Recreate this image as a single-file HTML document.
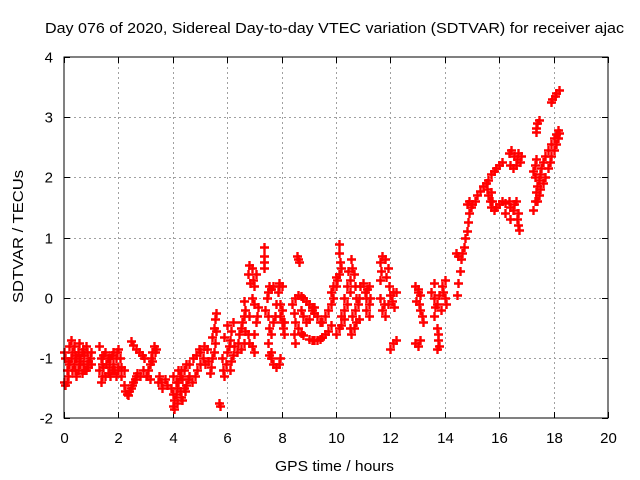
<!DOCTYPE html>
<html><head><meta charset="utf-8"><style>
html,body{margin:0;padding:0;background:#fff;}
svg{display:block;font-family:"Liberation Sans",sans-serif;}
</style></head><body>
<svg id="chart" width="640" height="480" viewBox="0 0 640 480">
<rect width="640" height="480" fill="#fff"/>
<text x="45" y="33" font-size="15" textLength="579" lengthAdjust="spacingAndGlyphs" fill="#000">Day 076 of 2020, Sidereal Day-to-day VTEC variation (SDTVAR) for receiver ajac</text>
<text x="275" y="471" font-size="15" textLength="119" lengthAdjust="spacingAndGlyphs" fill="#000">GPS time / hours</text>
<text x="0" y="0" font-size="15" textLength="133" lengthAdjust="spacingAndGlyphs" fill="#000" transform="translate(23,303) rotate(-90)">SDTVAR / TECUs</text>
<g id="grid"></g>
<g id="ticks"></g>
<g id="marks"></g>
<rect x="64" y="57" width="544" height="361" fill="none" stroke="#000" stroke-width="1"/>
</svg>
<script>
const xTicks = [0,2,4,6,8,10,12,14,16,18,20];
const yTicks = [-2,-1,0,1,2,3,4];
const xTickLabels = ["0","2","4","6","8","10","12","14","16","18","20"];
const yTickLabels = ["-2","-1","0","1","2","3","4"];
const points = [
[0,-0.9],[0.05,-1.0],[0.1,-1.4],[0.15,-1.3],[0.2,-0.8],[0.25,-0.7],[0.3,-0.9],[0.35,-1.1],[0.4,-1.2],[0.45,-1.0],[0.5,-0.9],[0.55,-0.75],[0.6,-1.0],[0.65,-1.25],[0.7,-1.1],[0.75,-0.95],[0.8,-0.8],[0.85,-0.9],[0.9,-1.05],[0.95,-1.0],[1.0,-1.1],
[0,-1.4],[0.05,-1.45],[0.1,-1.2],[0.2,-1.1],[0.3,-1.2],[0.4,-0.95],[0.5,-1.2],[0.6,-1.1],[0.7,-0.85],[0.8,-1.2],[0.9,-1.15],[1.0,-0.9],[0.15,-1.05],[0.35,-0.8],[0.55,-1.05],[0.75,-1.2],[0.25,-1.0],[0.45,-1.3],[0.65,-0.9],[0.85,-1.1],
[1.3,-0.8],[1.35,-1.0],[1.4,-1.3],[1.45,-1.15],[1.5,-0.9],[1.55,-1.1],[1.6,-1.25],[1.7,-1.0],[1.75,-0.95],[1.8,-1.1],[1.85,-1.2],[1.9,-1.0],[1.95,-0.9],[2.0,-0.85],[2.05,-1.0],[2.1,-1.15],[2.2,-1.2],
[1.3,-1.2],[1.4,-1.1],[1.5,-1.3],[1.6,-1.0],[1.7,-1.3],[1.8,-0.9],[1.9,-1.3],[2.0,-1.2],[1.35,-1.4],[1.65,-1.15],[1.45,-0.95],[1.75,-1.2],
[2.0,-1.15],[2.1,-1.3],[2.2,-1.45],[2.3,-1.6],[2.4,-1.55],[2.5,-1.45],[2.6,-1.35],[2.7,-1.25],[2.8,-1.3],[2.9,-1.2],[3.0,-1.3],[2.25,-1.55],[2.35,-1.62],[2.45,-1.5],[2.55,-1.4],[2.65,-1.3],
[2.45,-0.72],[2.55,-0.78],[2.65,-0.85],[2.75,-0.9],[2.85,-0.95],[2.95,-1.0],
[3.1,-1.2],[3.15,-1.1],[3.2,-1.0],[3.25,-0.9],[3.3,-0.8],[3.35,-0.9],[3.4,-0.85],[3.05,-1.3],[3.15,-1.35],[3.25,-1.05],
[3.45,-1.4],[3.55,-1.4],[3.6,-1.5],[3.7,-1.35],[3.8,-1.45],[3.5,-1.3],
[4.0,-1.8],[4.05,-1.7],[4.1,-1.6],[4.15,-1.5],[4.2,-1.4],[4.25,-1.3],[4.3,-1.2],[4.35,-1.35],[4.4,-1.5],[4.0,-1.3],[4.1,-1.4],[4.2,-1.2],[3.95,-1.5],[4.05,-1.85],[4.15,-1.75],[4.3,-1.65],[4.45,-1.55],[4.5,-1.45],[4.55,-1.35],[4.6,-1.3],[4.6,-1.1],[4.5,-1.1],[4.4,-1.2],[4.7,-1.4],[4.8,-1.3],[4.9,-1.2],[5.0,-1.1],[4.75,-1.0],[4.85,-0.95],[4.95,-0.85],[4.25,-1.55],[4.35,-1.7],[4.0,-1.6],
[5.0,-0.9],[5.1,-1.0],[5.2,-1.1],[5.15,-0.8],[5.25,-0.85],[5.3,-1.05],[5.35,-1.25],[5.4,-1.15],[5.45,-1.0],[5.5,-0.9],[5.55,-0.75],[5.6,-0.55],[5.5,-0.5],[5.45,-0.65],[5.55,-0.35],[5.6,-0.25],
[5.7,-1.75],[5.75,-1.8],
[5.8,-1.0],[5.85,-1.2],[5.9,-1.3],[5.95,-1.1],[6.0,-0.9],[6.05,-0.8],[6.1,-0.7],[6.15,-0.55],[6.2,-0.4],[6.1,-1.2],[6.15,-1.05],[6.2,-0.95],[6.25,-0.8],[6.0,-0.45],[5.9,-0.65],
[6.35,-0.9],[6.4,-0.75],[6.45,-0.6],[6.5,-0.5],[6.55,-0.4],[6.6,-0.3],[6.65,-0.55],[6.6,-0.75],[6.5,-0.85],[6.6,-0.05],[6.65,-0.2],
[6.75,0.4],[6.8,0.55],[6.9,0.5],[6.95,0.3],[7.0,0.2],[7.05,0.4],[6.85,0.25],[6.9,0.0],[7.0,-0.1],[6.8,-0.3],[6.75,-0.6],[6.8,-0.75],[6.9,-0.8],[7.0,-0.6],[7.05,-0.4],[7.1,-0.3],[7.15,-0.15],[7.0,-0.9],
[7.35,0.85],[7.35,0.7],[7.35,0.6],[7.35,0.5],
[7.4,-0.2],[7.45,0.0],[7.5,0.1],[7.55,0.2],[7.6,0.15],[7.7,0.2],[7.5,-0.3],[7.55,-0.5],[7.6,-0.6],[7.7,-0.4],[7.75,-0.3],[7.8,-0.1],[7.85,0.1],[7.9,0.2],[7.5,-0.75],[7.6,-0.9],
[7.6,-1.0],[7.7,-1.1],[7.8,-1.15],[7.9,-1.1],[7.95,-1.0],[7.55,-0.95],
[7.95,-0.3],[8.0,-0.4],[8.05,-0.5],[8.1,-0.4],[8.0,-0.2],[7.95,-0.1],[8.1,-0.6],[7.9,0.25],[8.0,0.2],
[8.55,0.7],[8.6,0.65],[8.65,0.6],
[8.4,-0.1],[8.45,-0.25],[8.5,-0.4],[8.6,-0.5],[8.7,-0.58],[8.8,-0.62],[9.0,-0.68],[9.1,-0.7],[9.2,-0.7],[9.3,-0.7],[9.4,-0.68],[9.5,-0.65],[9.6,-0.6],[9.7,-0.55],[9.8,-0.45],[8.5,0.0],[8.6,0.05],[8.7,0.02],[8.8,0.0],[8.9,-0.05],[9.0,-0.1],[9.1,-0.15],[9.2,-0.15],
[8.7,-0.2],[8.8,-0.3],[8.9,-0.4],[9.0,-0.35],[9.1,-0.2],[9.2,-0.25],[9.3,-0.3],[9.4,-0.4],[8.45,-0.6],[8.5,-0.75],
[9.5,-0.4],[9.6,-0.3],[9.7,-0.2],[9.8,-0.1],[9.9,0.0],[10.0,0.2],[10.05,0.3],[10.1,0.4],[10.2,0.5],[9.8,0.1],[9.9,0.2],[10.0,0.35],[10.1,0.9],[10.1,0.75],[10.15,0.6],
[10.3,0.0],[10.4,0.2],[10.5,0.3],[10.6,0.5],[10.65,0.4],[10.7,0.2],[10.75,0.0],[10.3,-0.2],[10.4,-0.1],[10.2,-0.3],[10.1,-0.5],[10.0,-0.6],[10.2,-0.45],[10.3,-0.35],[10.5,0.1],[10.55,0.65],[10.45,0.45],
[10.8,-0.1],[10.85,0.0],[10.9,0.2],[10.5,-0.5],[10.6,-0.3],[10.7,-0.2],
[10.55,-0.6],[10.65,-0.5],[10.75,-0.4],[10.85,-0.35],
[11.0,0.25],[11.05,0.1],[11.1,0.0],[11.2,-0.1],[11.25,0.0],[11.1,-0.2],[11.2,0.2],[11.2,-0.3],[11.15,0.15],
[11.6,0.6],[11.7,0.7],[11.8,0.65],[11.9,0.5],[11.6,0.3],[11.6,0.0],[11.7,-0.2],[11.8,-0.3],[11.9,-0.1],[11.95,0.2],[11.65,0.45],[11.75,-0.1],[11.85,0.35],
[12.0,-0.85],[12.1,-0.75],[12.2,-0.7],
[12.0,0.05],[12.05,-0.05],[12.1,0.1],[12.2,0.1],[12.15,-0.15],
[12.9,0.2],[13.0,0.1],[13.05,-0.1],[13.1,-0.2],[13.15,-0.3],[13.0,0.15],[13.2,-0.4],[13.1,0.05],[12.95,-0.05],
[12.9,-0.75],[13.0,-0.8],[13.1,-0.7],
[13.5,0.1],[13.6,0.0],[13.7,-0.1],[13.8,0.05],[13.9,0.2],[14.0,0.3],[13.6,-0.3],[13.7,-0.5],[13.75,-0.7],[13.8,-0.8],[13.75,-0.6],[14.0,0.0],[14.05,-0.1],[13.6,0.25],[13.65,-0.15],[13.85,-0.2],[13.95,0.1],[13.7,-0.85],
[14.45,0.05],[14.5,0.25],[14.55,0.45],[14.6,0.65],[14.65,0.75],[14.7,0.85],[14.75,1.0],[14.8,1.1],[14.85,1.25],[14.9,1.4],[14.95,1.5],[15.0,1.55],[15.1,1.6],[15.2,1.7],[15.3,1.78],[15.4,1.85],[15.5,1.9],[15.6,1.95],[15.7,2.05],[15.8,2.1],[15.9,2.15],[16.0,2.2],[16.1,2.25],[14.4,0.75],[14.5,0.7],[14.8,1.55],[14.9,1.6],
[15.55,1.8],[15.6,1.7],[15.65,1.6],[15.7,1.5],[15.8,1.45],[15.9,1.5],[16.0,1.55],[16.1,1.6],[16.2,1.57],[15.7,1.75],[15.75,1.6],
[16.35,1.6],[16.4,1.5],[16.5,1.45],[16.6,1.6],[16.7,1.4],[16.65,1.3],[16.55,1.55],[16.4,1.3],[16.7,1.2],[16.72,1.12],[16.2,1.4],
[16.35,2.4],[16.45,2.45],[16.55,2.35],[16.65,2.3],[16.75,2.25],[16.8,2.35],[16.4,2.2],[16.5,2.15],[16.6,2.2],[16.7,2.4],
[17.25,1.45],[17.3,1.6],[17.35,1.75],[17.4,1.85],[17.45,1.95],[17.5,2.05],[17.55,2.15],[17.6,2.25],[17.7,2.35],[17.8,2.45],[17.9,2.55],[18.0,2.65],[18.1,2.72],[18.15,2.78],
[17.4,1.6],[17.45,1.7],[17.5,1.8],[17.6,1.9],[17.7,2.0],[17.8,2.15],[17.85,2.25],[17.9,2.35],[18.0,2.45],[18.1,2.55],[18.15,2.65],[18.2,2.73],
[17.25,2.1],[17.3,2.2],[17.35,2.3],[17.3,2.0],
[17.35,2.82],[17.4,2.9],[17.45,2.95],[17.35,2.75],
[17.9,3.25],[17.95,3.3],[18.05,3.35],[18.1,3.4],[18.2,3.45]
];
const NS='http://www.w3.org/2000/svg';
const X0=64,X1=608,Y0=418,Y1=57;
function xScale(v){return X0+(v-0)/(20-0)*(X1-X0);}
function yScale(v){return Y0-(v+2)/(4+2)*(Y0-Y1);}
const grid=document.getElementById('grid'),ticks=document.getElementById('ticks'),marks=document.getElementById('marks');
function mk(tag,attrs,parent){const e=document.createElementNS(NS,tag);for(const k in attrs)e.setAttribute(k,attrs[k]);parent.appendChild(e);return e;}
xTicks.forEach((t,i)=>{
  const x=Math.round(xScale(t))+0.5;
  if(t>0&&t<20){const g=mk('line',{x1:x,y1:Y1,x2:x,y2:Y0,stroke:'#a0a0a0','stroke-dasharray':'2,3'},grid);
    
    }
  const a=mk('line',{x1:x,y1:Y0,x2:x,y2:Y0-6,stroke:'#000'},ticks);
  
  
  const b=mk('line',{x1:x,y1:Y1,x2:x,y2:Y1+6,stroke:'#000'},ticks);
  
  
  const l=mk('text',{x:x,y:443,'font-size':15,'text-anchor':'middle',fill:'#000'},ticks);
  l.textContent=xTickLabels[i];
  
  
});
yTicks.forEach((t,i)=>{
  const y=Math.round(yScale(t))+0.5;
  if(t>-2&&t<4){const g=mk('line',{x1:X0,y1:y,x2:X1,y2:y,stroke:'#a0a0a0','stroke-dasharray':'2,3'},grid);
    
    }
  const a=mk('line',{x1:X0,y1:y,x2:X0+6,y2:y,stroke:'#000'},ticks);
  
  
  const b=mk('line',{x1:X1,y1:y,x2:X1-6,y2:y,stroke:'#000'},ticks);
  
  
  const l=mk('text',{x:53,y:y+5,'font-size':15,'text-anchor':'end',fill:'#000'},ticks);
  l.textContent=yTickLabels[i];
  
  
});
points.forEach(p=>{
  const x=Math.round(xScale(p[0]))+0.5,y=Math.round(yScale(p[1]))+0.5;
  const m=mk('path',{d:`M${x-4.5} ${y}H${x+4.5}M${x} ${y-4.5}V${y+4.5}`,stroke:'#ff0000','stroke-width':2.4,fill:'none'},marks);
  
  
});
</script>
</body></html>
